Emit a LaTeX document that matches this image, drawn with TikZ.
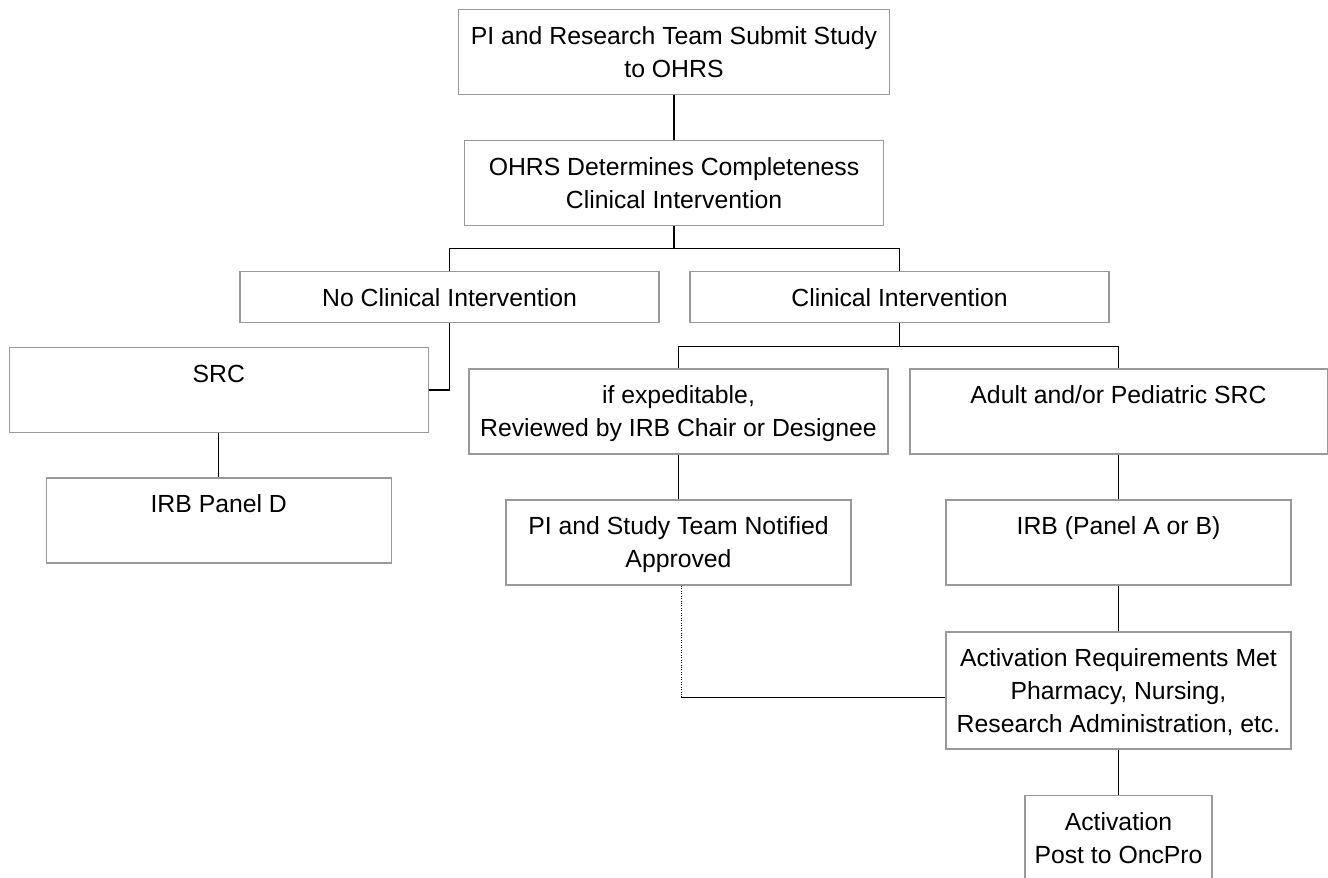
\documentclass[tikz,border=0pt]{standalone}
\usepackage{fontspec}
\setmainfont{Liberation Sans}
\usetikzlibrary{calc}

\begin{document}
\begin{tikzpicture}[font=\fontsize{14.1}{18.8}\selectfont,
    box/.style={draw=gray!80, line width=0.85pt, inner sep=0pt,
                minimum width=#1, text height=19.9pt, text depth=28.5pt,
                align=center},
    box/.default=8.38cm,
    low/.style={text depth=9.1pt},
    two/.style={text height=38.7pt, text depth=9.7pt},
    three/.style={text height=57.5pt, text depth=9.3pt},
    link/.style={line width=0.75pt}]

  \useasboundingbox (0,0) rectangle (26.56,-17.56);

  %% Submission and completeness check
  \node[box=8.62cm, two] (submit) at (13.48,-1.04)
    {PI and Research Team Submit Study\\to OHRS};
  \node[box, two] (ohrs) at (13.48,-3.66)
    {OHRS Determines Completeness\\Clinical Intervention};
  \draw[link] (submit.south) -- (ohrs.north);

  %% Two branches
  \node[box, low] (noci) at (8.99,-5.94) {No Clinical Intervention};
  \node[box, low] (ci)   at (17.99,-5.94) {Clinical Intervention};
  \draw[link] (ohrs.south) -- ++(0,-0.45) -| (noci.north);
  \draw[link] (ohrs.south) -- ++(0,-0.45) -| (ci.north);

  %% Left branch: no clinical intervention
  \node[box] (src) at (4.375,-7.8) {SRC};
  \node[box=6.9cm] (irbd) at (4.375,-10.41) {IRB Panel D};
  \draw[link] (noci.south) |- (src.east);
  \draw[link] (src.south) -- (irbd.north);

  %% Right branch: clinical intervention
  \node[box, two] (expd) at (13.57,-8.23)
    {if expeditable,\\Reviewed by IRB Chair or Designee};
  \node[box=8.35cm] (adult) at (22.37,-8.23) {Adult and/or Pediatric SRC};
  \draw[link] (ci.south) -- ++(0,-0.47) -| (expd.north);
  \draw[link] (ci.south) -- ++(0,-0.47) -| (adult.north);

  \node[box=6.9cm, two] (notif) at (13.57,-10.85)
    {PI and Study Team Notified\\Approved};
  \node[box=6.9cm] (irbab) at (22.37,-10.85) {IRB (Panel A or B)};
  \draw[link] (expd.south) -- (notif.north);
  \draw[link] (adult.south) -- (irbab.north);

  %% Activation
  \node[box=6.9cm, three] (actreq) at (22.37,-13.81)
    {Activation Requirements Met\\Pharmacy, Nursing,\\Research Administration, etc.};
  \node[box=3.74cm, two] (activ) at (22.37,-16.76)
    {Activation\\Post to OncPro};
  \draw[link] (irbab.south) -- (actreq.north);
  \draw[link] (actreq.south) -- (activ.north);

  \coordinate (join) at ([yshift=-0.14cm]actreq.west);
  \draw[densely dotted, thin] ([xshift=0.05cm]notif.south) -- ([xshift=0.05cm]notif.south |- join);
  \draw[link] ([xshift=0.05cm]notif.south |- join) -- (join);

\end{tikzpicture}
\end{document}
